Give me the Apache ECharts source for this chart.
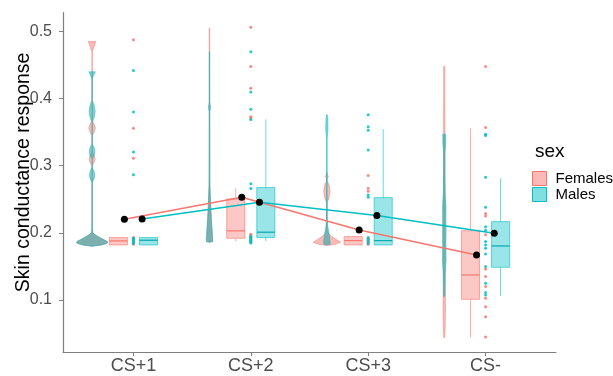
<!DOCTYPE html>
<html>
<head>
<meta charset="utf-8">
<script src="https://cdn.jsdelivr.net/npm/echarts@6/dist/echarts.min.js"></script>
<style>
  html, body { margin: 0; padding: 0; background: #fff; }
  #chart { width: 613px; height: 376px; }
</style>
</head>
<body>
<div id="chart"></div>
<script>
const categories = ['CS+1', 'CS+2', 'CS+3', 'CS-']
const yTicks = [0.1, 0.2, 0.3, 0.4, 0.5]

// box stats per category: [min, q1, median, q3, max]
const femaleBox = [
  [0.182, 0.182, 0.188, 0.193, 0.193],
  [0.187, 0.192, 0.203, 0.2506, 0.2665],
  [0.182, 0.182, 0.1885, 0.1944, 0.1944],
  [0.0444, 0.101, 0.1373, 0.2033, 0.356]
]
const maleBox = [
  [0.182, 0.182, 0.189, 0.193, 0.193],
  [0.188, 0.193, 0.201, 0.2675, 0.369],
  [0.182, 0.182, 0.1885, 0.2525, 0.3545],
  [0.106, 0.1487, 0.1805, 0.2167, 0.2814]
]

// group means
const femaleMean = [0.2203, 0.2531, 0.2043, 0.167]
const maleMean = [0.2207, 0.2456, 0.2257, 0.1994]

// raw observations (outliers + clusters)
const femalePoints = [
  [0.4876, 0.356, 0.311, 0.183, 0.185, 0.187, 0.189, 0.191, 0.193],
  [0.5065, 0.448, 0.4156, 0.373, 0.371, 0.186, 0.188, 0.19, 0.192, 0.194, 0.196, 0.198],
  [0.2853, 0.2665, 0.262, 0.183, 0.186, 0.189, 0.192],
  [0.448, 0.357, 0.229, 0.225, 0.197, 0.146, 0.135, 0.12, 0.1025, 0.09, 0.075, 0.045]
]
const malePoints = [
  [0.442, 0.38, 0.3206, 0.2864, 0.184, 0.186, 0.188, 0.19, 0.192],
  [0.47, 0.4097, 0.384, 0.369, 0.273, 0.266, 0.185, 0.187, 0.189, 0.191, 0.193, 0.195],
  [0.376, 0.358, 0.353, 0.3236, 0.2565, 0.253, 0.184, 0.187, 0.19, 0.193],
  [0.347, 0.345, 0.283, 0.238, 0.209, 0.204, 0.187, 0.182, 0.177, 0.1686, 0.15, 0.125, 0.111, 0.1075]
]

// violin outlines: [value, half width in category units]
const femaleViolin = [
  [[0.18, 0], [0.182, 0.08], [0.184, 0.12], [0.186, 0.135], [0.188, 0.12], [0.192, 0.075], [0.196, 0.035], [0.2, 0.006],
   [0.205, 0.002], [0.3, 0.002], [0.305, 0.018], [0.31, 0.026], [0.315, 0.018], [0.32, 0.002], [0.345, 0.002], [0.35, 0.018],
   [0.356, 0.028], [0.362, 0.018], [0.367, 0.002], [0.47, 0.002], [0.485, 0.032]],
  [[0.186, 0], [0.187, 0.024], [0.195, 0.024], [0.205, 0.02], [0.22, 0.016], [0.24, 0.01], [0.26, 0.006], [0.28, 0.003],
   [0.505, 0.002]],
  [[0.181, 0], [0.183, 0.07], [0.186, 0.118], [0.19, 0.08], [0.195, 0.04], [0.2, 0.008], [0.205, 0.003], [0.245, 0.003],
   [0.252, 0.018], [0.262, 0.027], [0.272, 0.018], [0.277, 0.003], [0.281, 0.003], [0.284, 0.013], [0.288, 0.003], [0.29, 0.002]],
  [[0.044, 0.004], [0.06, 0.008], [0.08, 0.01], [0.1, 0.01], [0.13, 0.008], [0.16, 0.008], [0.2, 0.007], [0.24, 0.007],
   [0.28, 0.006], [0.32, 0.006], [0.36, 0.006], [0.4, 0.005], [0.448, 0.005]]
]
const maleViolin = [
  [[0.18, 0], [0.182, 0.08], [0.184, 0.12], [0.186, 0.135], [0.188, 0.12], [0.192, 0.075], [0.196, 0.035], [0.2, 0.006],
   [0.205, 0.002], [0.275, 0.002], [0.28, 0.016], [0.286, 0.024], [0.292, 0.016], [0.297, 0.002], [0.31, 0.002], [0.315, 0.018],
   [0.321, 0.024], [0.327, 0.018], [0.332, 0.002], [0.365, 0.002], [0.372, 0.018], [0.381, 0.026], [0.39, 0.018], [0.397, 0.002],
   [0.43, 0.002], [0.44, 0.028]],
  [[0.186, 0], [0.187, 0.028], [0.2, 0.024], [0.22, 0.016], [0.24, 0.01], [0.26, 0.006], [0.27, 0.003], [0.38, 0.002],
   [0.387, 0.009], [0.394, 0.002], [0.47, 0.002]],
  [[0.182, 0], [0.183, 0.028], [0.19, 0.026], [0.2, 0.018], [0.21, 0.008], [0.22, 0.003], [0.34, 0.003], [0.355, 0.01],
   [0.368, 0.008], [0.376, 0.004]],
  [[0.105, 0.005], [0.12, 0.007], [0.14, 0.009], [0.16, 0.016], [0.18, 0.014], [0.2, 0.016], [0.22, 0.014], [0.24, 0.015],
   [0.26, 0.008], [0.29, 0.006], [0.32, 0.006], [0.335, 0.013], [0.347, 0.013]]
]

const RED = '#F8766D'
const TEAL = '#00BFC4'
const VIOLIN_DX = -0.352
const BOX_DX = 0.128
const BOX_HW = 0.077
const MEAN_DX = [-0.077, 0.074]

const chart = echarts.init(document.getElementById('chart'))

function violinItem(profiles, fill, stroke) {
  return (params, api) => {
    const i = params.dataIndex
    const cx = i + 1 + VIOLIN_DX
    const prof = profiles[i]
    const right = prof.map(p => api.coord([cx + p[1], p[0]]))
    const left = prof.slice().reverse().map(p => api.coord([cx - p[1], p[0]]))
    return {
      type: 'polygon',
      shape: { points: right.concat(left) },
      style: { fill: fill, stroke: stroke, lineWidth: 0.6 }
    }
  }
}

function boxItem(stats, dx, line, fill, median) {
  return (params, api) => {
    const i = params.dataIndex
    const s = stats[i]
    const c = i + 1 + dx
    const p = v => api.coord([c, v])
    const tl = api.coord([c - BOX_HW, s[3]])
    const br = api.coord([c + BOX_HW, s[1]])
    const ml = api.coord([c - BOX_HW, s[2]])
    const mr = api.coord([c + BOX_HW, s[2]])
    const seg = (a, b) => ({
      type: 'line',
      shape: { x1: p(a)[0], y1: p(a)[1], x2: p(b)[0], y2: p(b)[1] },
      style: { stroke: line, lineWidth: 1 }
    })
    return {
      type: 'group',
      children: [
        seg(s[0], s[1]),
        seg(s[3], s[4]),
        {
          type: 'rect',
          shape: { x: tl[0], y: tl[1], width: br[0] - tl[0], height: Math.max(br[1] - tl[1], 1) },
          style: { fill: fill, stroke: line, lineWidth: 1 }
        },
        {
          type: 'line',
          shape: { x1: ml[0], y1: ml[1], x2: mr[0], y2: mr[1] },
          style: { stroke: median, lineWidth: 1.2 }
        }
      ]
    }
  }
}

const catData = categories.map((c, i) => [i + 1, 0.3])

const pointData = pts => pts.flatMap((vals, i) => vals.map(v => [i + 1, v]))

const option = {
  animation: false,
  textStyle: { fontFamily: 'Liberation Sans, Arial, sans-serif' },
  grid: { left: 63, right: 57, top: 12.7, bottom: 24 },
  title: {
    text: 'sex',
    left: 530,
    top: 137,
    textStyle: { fontSize: 19, fontWeight: 'normal', color: '#000' }
  },
  legend: {
    orient: 'vertical',
    left: 527,
    top: 166,
    itemWidth: 14,
    itemHeight: 14,
    itemGap: 1,
    icon: 'rect',
    textStyle: { fontSize: 15, color: '#000', padding: [0, 0, 0, 4] },
    data: [
      { name: 'Females', itemStyle: { color: 'rgba(248,118,109,0.5)', borderColor: RED, borderWidth: 1 } },
      { name: 'Males', itemStyle: { color: 'rgba(0,191,196,0.5)', borderColor: TEAL, borderWidth: 1 } }
    ]
  },
  xAxis: {
    type: 'value',
    min: 0.4,
    max: 4.6,
    splitLine: { show: false },
    axisLine: { show: true, onZero: false, lineStyle: { color: '#7f7f7f', width: 1.2 } },
    axisTick: { show: true, length: 4, customValues: [1, 2, 3, 4], lineStyle: { color: '#7f7f7f' } },
    axisLabel: {
      customValues: [1, 2, 3, 4],
      formatter: v => categories[Math.round(v) - 1],
      fontSize: 18,
      color: '#4d4d4d',
      margin: 5
    }
  },
  yAxis: {
    type: 'value',
    min: 0.0225,
    max: 0.528,
    name: 'Skin conductance response',
    nameLocation: 'middle',
    nameGap: 29,
    nameMoveOverlap: false,
    nameTextStyle: { fontSize: 19.5, color: '#000', padding: [0, 0, 0, 20] },
    splitLine: { show: false },
    axisLine: { show: true, onZero: false, lineStyle: { color: '#7f7f7f', width: 1.2 } },
    axisTick: { show: true, length: 4, customValues: yTicks, lineStyle: { color: '#7f7f7f' } },
    axisLabel: {
      customValues: yTicks,
      formatter: v => v.toFixed(1),
      fontSize: 16,
      color: '#4d4d4d',
      margin: 11
    }
  },
  series: [
    {
      type: 'custom',
      z: 1,
      data: catData,
      encode: { x: 0, y: 1 },
      renderItem: violinItem(femaleViolin, 'rgba(248,118,109,0.5)', 'rgba(248,118,109,0.8)')
    },
    {
      type: 'custom',
      z: 2,
      data: catData,
      encode: { x: 0, y: 1 },
      renderItem: violinItem(maleViolin, 'rgba(0,165,170,0.5)', 'rgba(0,191,196,0.8)')
    },
    {
      name: 'Females',
      type: 'custom',
      z: 3,
      data: catData,
      encode: { x: 0, y: 1 },
      itemStyle: { color: 'rgba(248,118,109,0.45)' },
      renderItem: boxItem(femaleBox, -BOX_DX, 'rgba(248,118,109,0.6)', 'rgba(248,118,109,0.4)', RED)
    },
    {
      name: 'Males',
      type: 'custom',
      z: 3,
      data: catData,
      encode: { x: 0, y: 1 },
      itemStyle: { color: 'rgba(0,191,196,0.45)' },
      renderItem: boxItem(maleBox, BOX_DX, 'rgba(0,191,196,0.6)', 'rgba(0,191,196,0.4)', '#00a9ad')
    },
    {
      type: 'scatter',
      z: 4,
      symbolSize: 3,
      itemStyle: { color: RED, opacity: 0.85 },
      data: pointData(femalePoints)
    },
    {
      type: 'scatter',
      z: 4,
      symbolSize: 3,
      itemStyle: { color: TEAL, opacity: 0.85 },
      data: pointData(malePoints)
    },
    {
      type: 'line',
      z: 5,
      symbol: 'circle',
      symbolSize: 7,
      itemStyle: { color: '#000' },
      lineStyle: { color: RED, width: 1.5 },
      data: femaleMean.map((v, i) => [i + 1 + MEAN_DX[0], v])
    },
    {
      type: 'line',
      z: 5,
      symbol: 'circle',
      symbolSize: 7,
      itemStyle: { color: '#000' },
      lineStyle: { color: TEAL, width: 1.5 },
      data: maleMean.map((v, i) => [i + 1 + MEAN_DX[1], v])
    }
  ]
}

chart.setOption(option)
</script>
</body>
</html>
